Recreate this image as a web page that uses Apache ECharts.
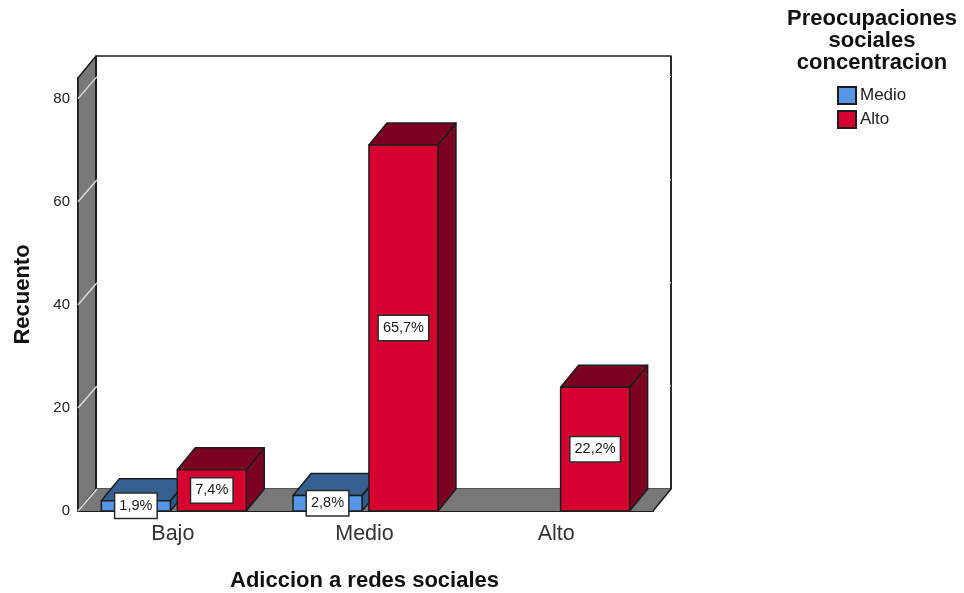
<!DOCTYPE html>
<html><head><meta charset="utf-8">
<style>html,body{margin:0;padding:0;background:#fff}#c{width:964px;height:593px}</style>
<script src="https://cdn.jsdelivr.net/npm/echarts@6/dist/echarts.min.js"></script>
</head><body><div id="c"></div>
<script>
const categories = ['Bajo','Medio','Alto'];
const medioValues = [2,3,null];
const altoValues = [8,71,24];
const medioLabels = ['1,9%','2,8%',''];
const altoLabels = ['7,4%','65,7%','22,2%'];
const yTicks = [0,20,40,60,80];

const DX = 18, DY = 22;
const INK = '#1c1c1c', WALL = '#787878';
const FONT = '"Liberation Sans", Arial, sans-serif';

function poly(points, fill, z2, stroke) {
  return {type:'polygon', z2:z2||0, shape:{points}, style:{fill, stroke:stroke===undefined?INK:stroke, lineWidth:1.5, lineJoin:'round'}};
}
function line(x1,y1,x2,y2,color,w,z2){
  return {type:'line', z2:z2||0, shape:{x1,y1,x2,y2}, style:{stroke:color, lineWidth:w||1.5, fill:null}};
}
function wallsItem(params, api){
  const c = params.coordSys;
  const L=c.x, R=c.x+c.width, T=c.y, B=c.y+c.height;
  const ch=[];
  ch.push(poly([[L+DX,T-DY],[R+DX,T-DY],[R+DX,B-DY],[L+DX,B-DY]],'#fff',0));
  ch.push(poly([[L,B],[L+DX,B-DY],[L+DX,T-DY],[L,T]],WALL,1));
  ch.push(poly([[L,B],[R,B],[R+DX,B-DY],[L+DX,B-DY]],WALL,1,'none'));
  ch.push(line(R,B,R+DX,B-DY,INK,1.5,2));
  ch.push(line(R+DX,B-DY,R+DX,T-DY,INK,1.5,2));
  ch.push(line(L+DX,B-DY,L+DX,T-DY,INK,2,2));
  yTicks.forEach(t=>{
    const y = api.coord([0,t])[1];
    ch.push(line(L,y,L+DX+1,y-DY,'#dcdcdc',1.5,3));
    if(t>0) ch.push(line(L+DX+1,y-DY,R+DX,y-DY,'#ffffff',1,3));
  });
  return {type:'group', children:ch};
}
function barItem(offsetFrac, front, top, side){
  return function(params, api){
    const v = api.value(1);
    if(v===null||v===undefined||isNaN(v)) return null;
    const cat = api.value(0);
    const band = api.size([1,0])[0];
    const cx = api.coord([cat,0])[0] + offsetFrac*band;
    const w = band*0.36;
    const x0 = cx-w/2, x1 = cx+w/2;
    const yb = api.coord([cat,0])[1], yt = api.coord([cat,v])[1];
    return {type:'group', children:[
      poly([[x1,yt],[x1+DX,yt-DY],[x1+DX,yb-DY],[x1,yb]],side,1),
      poly([[x0,yt],[x0+DX,yt-DY],[x1+DX,yt-DY],[x1,yt]],top,1),
      poly([[x0,yt],[x1,yt],[x1,yb],[x0,yb]],front,2)
    ]};
  };
}
function labelItem(offsetFrac){
  return function(params, api){
    const txt = api.value(2);
    const v = api.value(1);
    if(!txt) return null;
    const cat = api.value(0);
    const band = api.size([1,0])[0];
    const cx = api.coord([cat,0])[0] + offsetFrac*band;
    const y = (api.coord([cat,0])[1]+api.coord([cat,v])[1])/2;
    return {type:'text', x:cx, y:y, style:{text:txt, x:0, y:0, align:'center', verticalAlign:'middle',
      font:'14.5px '+FONT, fill:'#1a1a1a', backgroundColor:'#fff', borderColor:'#2a2a2a', borderWidth:1.5, padding:[5,4,4,4]}};
  };
}
const OFF = 0.198;
const medioData = categories.map((c,i)=>[i,medioValues[i]]);
const altoData = categories.map((c,i)=>[i,altoValues[i]]);
const medioLab = categories.map((c,i)=>[i,medioValues[i],medioLabels[i]]);
const altoLab = categories.map((c,i)=>[i,altoValues[i],altoLabels[i]]);

const chart = echarts.init(document.getElementById('c'),null,{renderer:'canvas'});
chart.setOption({
  animation:false,
  backgroundColor:'#fff',
  textStyle:{fontFamily:FONT},
  title:{text:'Preocupaciones\nsociales\nconcentracion', left:867, top:3, textAlign:'center',
    textStyle:{fontFamily:FONT,fontWeight:'bold',fontSize:22,lineHeight:22,color:'#111',align:'center'}},
  legend:{left:837,top:86,padding:0,orient:'vertical',icon:'rect',itemWidth:18,itemHeight:17,itemGap:5,
    data:['Medio','Alto'],
    textStyle:{fontFamily:FONT,fontSize:17,color:'#222',padding:[0,0,0,-1]}},
  grid:{left:78,top:78,width:575,height:433,containLabel:false,outerBoundsMode:'none'},
  xAxis:{type:'category',data:categories,
    axisLine:{show:true,lineStyle:{color:INK,width:2}},axisTick:{show:false},
    axisLabel:{fontSize:21.5,color:'#333',margin:12,padding:[0,2,0,0],fontFamily:FONT},
    name:'Adiccion a redes sociales',nameLocation:'middle',nameGap:59,
    nameTextStyle:{fontFamily:FONT,fontWeight:'bold',fontSize:22,color:'#111',padding:[0,2,0,0]}},
  yAxis:{type:'value',min:0,max:84,interval:20,
    splitLine:{show:false},
    axisLine:{show:true,onZero:false,lineStyle:{color:INK,width:2}},
    axisTick:{show:false},
    axisLabel:{fontSize:15,color:'#222',margin:8,padding:[3,0,0,0],fontFamily:FONT,customValues:yTicks},
    name:'Recuento',nameLocation:'middle',nameGap:44,nameRotate:90,
    nameTextStyle:{fontFamily:FONT,fontWeight:'bold',fontSize:22,color:'#111'}},
  series:[
    {type:'custom',name:'walls',silent:true,z:1,renderItem:wallsItem,data:[[0,0]],clip:false,encode:{x:0,y:1}},
    {type:'custom',name:'Medio',z:2,renderItem:barItem(-OFF,'#5596e6','#35608f','#2f5a8c'),data:medioData,clip:false,encode:{x:0,y:1},
      itemStyle:{color:'#5596e6',borderColor:INK,borderWidth:1.5}},
    {type:'custom',name:'Alto',z:3,renderItem:barItem(OFF,'#d50030','#7c001f','#7c001f'),data:altoData,clip:false,encode:{x:0,y:1},
      itemStyle:{color:'#d50030',borderColor:INK,borderWidth:1.5}},
    {type:'custom',name:'labelsMedio',silent:true,z:5,renderItem:labelItem(-OFF),data:medioLab,clip:false,encode:{x:0,y:1}},
    {type:'custom',name:'labelsAlto',silent:true,z:5,renderItem:labelItem(OFF),data:altoLab,clip:false,encode:{x:0,y:1}}
  ]
});
</script></body></html>
